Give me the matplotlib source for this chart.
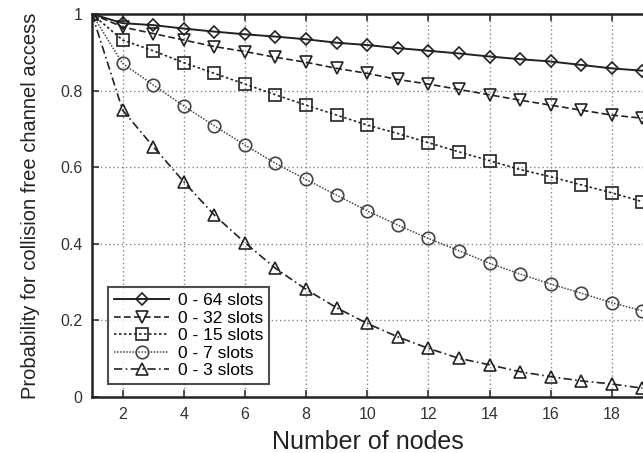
#!/usr/bin/env python3
"""Collision-free channel access probability vs number of nodes."""
import matplotlib
matplotlib.use("Agg")
import matplotlib.pyplot as plt

plt.rcParams["font.family"] = ["Liberation Sans", "DejaVu Sans"]

nodes = list(range(1, 20))

p_64 = [1.0, 0.976, 0.971, 0.962, 0.954, 0.947, 0.941, 0.934, 0.925, 0.919,
        0.911, 0.904, 0.897, 0.889, 0.882, 0.876, 0.867, 0.858, 0.852]
p_32 = [1.0, 0.966, 0.949, 0.932, 0.915, 0.902, 0.887, 0.874, 0.858, 0.845,
        0.829, 0.817, 0.803, 0.789, 0.775, 0.762, 0.749, 0.736, 0.728]
p_15 = [1.0, 0.932, 0.904, 0.873, 0.845, 0.817, 0.789, 0.762, 0.736, 0.710,
        0.688, 0.664, 0.640, 0.617, 0.594, 0.575, 0.554, 0.533, 0.510]
p_7 = [1.0, 0.871, 0.815, 0.760, 0.708, 0.658, 0.610, 0.568, 0.527, 0.486,
       0.449, 0.414, 0.382, 0.349, 0.321, 0.295, 0.271, 0.246, 0.225]
p_3 = [1.0, 0.749, 0.654, 0.562, 0.475, 0.403, 0.336, 0.281, 0.233, 0.192,
       0.157, 0.127, 0.101, 0.084, 0.066, 0.053, 0.042, 0.034, 0.023]

labels = ["0 - 64 slots", "0 - 32 slots", "0 - 15 slots", "0 - 7 slots", "0 - 3 slots"]
series = [p_64, p_32, p_15, p_7, p_3]
styles = [
    ("-", "D", "#222222", 1.4, 6),
    ((0, (4, 2)), "v", "#222222", 1.2, 8),
    ((0, (1.5, 1.5)), "s", "#222222", 1.2, 8),
    ((0, (1, 1)), "o", "#444444", 1.1, 9),
    ((0, (5, 2, 1, 2)), "^", "#222222", 1.2, 8),
]

fig = plt.figure(figsize=(6.43, 4.53), dpi=100)
ax = fig.add_axes([92 / 643, 56 / 453, 581 / 643, 383 / 453])

for vals, lab, (ls, mk, col, lw, ms) in zip(series, labels, styles):
    ax.plot(nodes, vals, linestyle=ls, marker=mk, color=col, linewidth=lw,
            markersize=ms, markerfacecolor="none", markeredgewidth=1.2,
            label=lab)

ax.set_xlim(1, 20)
ax.set_ylim(0, 1)
ax.set_xticks(range(2, 20, 2))
ax.set_yticks([0, 0.2, 0.4, 0.6, 0.8, 1])
ax.set_yticklabels(["0", "0.2", "0.4", "0.6", "0.8", "1"])
ax.tick_params(direction="in", length=5, width=1.2, labelsize=11.5,
               colors="#333333", top=True, right=True, pad=7)
ax.grid(True, linestyle=(0, (1, 2)), color="#888888", linewidth=1.0)
for sp in ax.spines.values():
    sp.set_linewidth(1.8)
    sp.set_color("#222222")

ax.set_xlabel("Number of nodes", fontsize=18, color="#222222")
ax.xaxis.set_label_coords(0.475, -0.085)
ax.set_ylabel("Probability for collision free channel access", fontsize=14.5,
              color="#222222", labelpad=14)

leg = ax.legend(loc="lower left", bbox_to_anchor=(0.012, 0.01), fontsize=12.5,
                frameon=True, fancybox=False, handlelength=3.2,
                borderpad=0.35, labelspacing=0.14, handletextpad=0.5)
leg.get_frame().set_edgecolor("#222222")
leg.get_frame().set_linewidth(1.5)

plt.savefig("out.png", dpi=100)
